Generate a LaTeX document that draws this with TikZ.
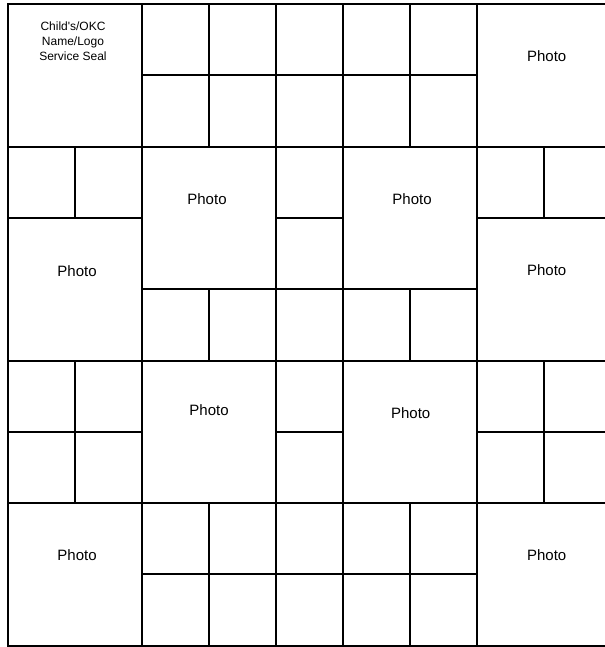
\documentclass[tikz,border=0pt]{standalone}
\usepackage{fontspec}
\setmainfont{Liberation Sans}

\begin{document}
\begin{tikzpicture}[
    x=33.5pt, y=-35.65pt,
    rule/.style={line width=1pt, line cap=rect},
    photo text/.style={font=\fontsize{7.5}{9}\selectfont, inner sep=0pt},
    seal text/.style={font=\fontsize{6}{7.5}\selectfont, align=center, inner sep=0pt}
]

% page frame (right side runs off the sheet)
\useasboundingbox (-0.1194,-0.0561) rectangle (8.910,9.018);
\clip (-0.1194,-0.0561) rectangle (8.910,9.018);

% --- Outer border ---
\draw[rule] (0,0) rectangle (9,9);

% --- Vertical rules ---
\draw[rule] (1,2) -- (1,3);
\draw[rule] (1,5) -- (1,7);
\draw[rule] (2,0) -- (2,9);
\draw[rule] (3,0) -- (3,2);
\draw[rule] (3,4) -- (3,5);
\draw[rule] (3,7) -- (3,9);
\draw[rule] (4,0) -- (4,9);
\draw[rule] (5,0) -- (5,9);
\draw[rule] (6,0) -- (6,2);
\draw[rule] (6,4) -- (6,5);
\draw[rule] (6,7) -- (6,9);
\draw[rule] (7,0) -- (7,9);
\draw[rule] (8,2) -- (8,3);
\draw[rule] (8,5) -- (8,7);

% --- Horizontal rules ---
\draw[rule] (2,1) -- (7,1);
\draw[rule] (0,2) -- (9,2);
\draw[rule] (0,3) -- (2,3);  \draw[rule] (4,3) -- (5,3);  \draw[rule] (7,3) -- (9,3);
\draw[rule] (2,4) -- (7,4);
\draw[rule] (0,5) -- (9,5);
\draw[rule] (0,6) -- (2,6);  \draw[rule] (4,6) -- (5,6);  \draw[rule] (7,6) -- (9,6);
\draw[rule] (0,7) -- (9,7);
\draw[rule] (2,8) -- (7,8);

% --- Seal box text ---
\node[seal text, anchor=north] (seal) at (0.97,0.25) {Child\textquotesingle s/OKC\\Name/Logo\\Service Seal};

% --- Photo captions ---
\node[photo text] (photo1) at (8.04,0.73) {Photo};
\node[photo text] (photo2) at (2.97,2.74) {Photo};
\node[photo text] (photo3) at (6.03,2.74) {Photo};
\node[photo text] (photo4) at (1.03,3.74) {Photo};
\node[photo text] (photo5) at (8.04,3.73) {Photo};
\node[photo text] (photo6) at (3.00,5.69) {Photo};
\node[photo text] (photo7) at (6.01,5.74) {Photo};
\node[photo text] (photo8) at (1.03,7.73) {Photo};
\node[photo text] (photo9) at (8.04,7.73) {Photo};

\end{tikzpicture}
\end{document}
